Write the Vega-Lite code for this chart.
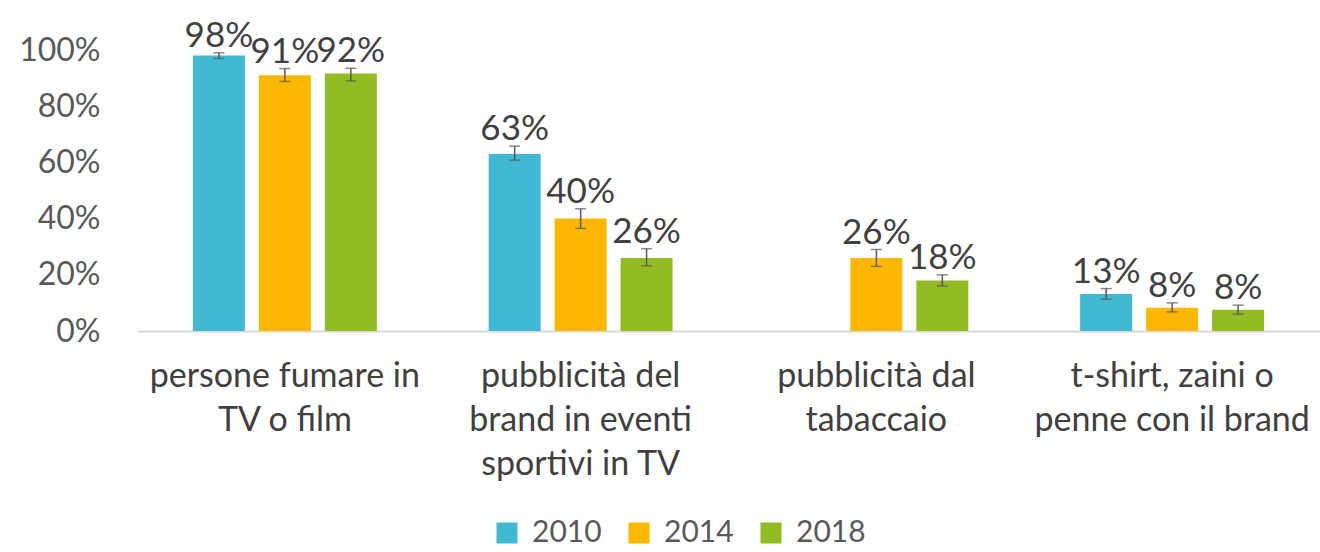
{
  "$schema": "https://vega.github.io/schema/vega-lite/v6.json",
  "width": 1183,
  "height": 281,
  "autosize": "none",
  "padding": {"left": 137, "top": 50, "right": 0, "bottom": 221},
  "config": {"font": "Lato", "view": {"stroke": null}},
  "data": {
    "values": [
      {"cat": "persone fumare in|TV o film", "year": "2010", "value": 0.98, "lo": 0.97, "hi": 0.99},
      {"cat": "persone fumare in|TV o film", "year": "2014", "value": 0.91, "lo": 0.888, "hi": 0.934},
      {"cat": "persone fumare in|TV o film", "year": "2018", "value": 0.916, "lo": 0.89, "hi": 0.935},
      {"cat": "pubblicità del|brand in eventi|sportivi in TV", "year": "2010", "value": 0.63, "lo": 0.608, "hi": 0.658},
      {"cat": "pubblicità del|brand in eventi|sportivi in TV", "year": "2014", "value": 0.40, "lo": 0.365, "hi": 0.435},
      {"cat": "pubblicità del|brand in eventi|sportivi in TV", "year": "2018", "value": 0.26, "lo": 0.232, "hi": 0.293},
      {"cat": "pubblicità dal|tabaccaio", "year": "2014", "value": 0.26, "lo": 0.23, "hi": 0.29},
      {"cat": "pubblicità dal|tabaccaio", "year": "2018", "value": 0.18, "lo": 0.16, "hi": 0.20},
      {"cat": "t-shirt, zaini o|penne con il brand", "year": "2010", "value": 0.132, "lo": 0.113, "hi": 0.151},
      {"cat": "t-shirt, zaini o|penne con il brand", "year": "2014", "value": 0.083, "lo": 0.068, "hi": 0.1},
      {"cat": "t-shirt, zaini o|penne con il brand", "year": "2018", "value": 0.076, "lo": 0.06, "hi": 0.092}
    ]
  },
  "encoding": {
    "x": {
      "field": "cat",
      "type": "nominal",
      "sort": null,
      "scale": {"paddingInner": 0, "paddingOuter": 0},
      "axis": {
        "title": null,
        "domain": true,
        "domainColor": "#D9D9D9",
        "domainWidth": 2,
        "ticks": false,
        "labelAngle": 0,
        "labelFontSize": 34,
        "labelColor": "#404040",
        "labelPadding": 28,
        "labelBaseline": "top",
        "labelLineHeight": 44,
        "labelLimit": 0,
        "labelOverlap": false,
        "labelExpr": "split(datum.label, '|')"
      }
    },
    "xOffset": {
      "field": "year",
      "type": "nominal",
      "scale": {"domain": ["2010", "2014", "2018"], "paddingInner": 0.212, "paddingOuter": 0.848}
    }
  },
  "layer": [
    {
      "mark": {"type": "bar"},
      "encoding": {
        "y": {
          "field": "value",
          "type": "quantitative",
          "scale": {"domain": [0, 1]},
          "axis": {
            "title": null,
            "domain": false,
            "ticks": false,
            "grid": false,
            "format": ".0%",
            "values": [0, 0.2, 0.4, 0.6, 0.8, 1],
            "labelFontSize": 32,
            "labelColor": "#595959",
            "labelPadding": 37
          }
        },
        "color": {
          "field": "year",
          "type": "nominal",
          "scale": {"domain": ["2010", "2014", "2018"], "range": ["#41B9D3", "#FCB800", "#93BB23"]},
          "legend": {
            "orient": "none",
            "legendX": 355,
            "legendY": 468,
            "direction": "horizontal",
            "title": null,
            "symbolType": "square",
            "symbolSize": 441,
            "symbolStrokeWidth": 0,
            "labelFontSize": 30,
            "labelColor": "#595959",
            "labelOffset": 10,
            "columnPadding": 22
          }
        }
      }
    },
    {
      "mark": {"type": "rule", "color": "#595959", "strokeWidth": 1.5},
      "encoding": {
        "y": {"field": "lo", "type": "quantitative"},
        "y2": {"field": "hi"}
      }
    },
    {
      "mark": {"type": "tick", "color": "#595959", "thickness": 1.5, "size": 11},
      "encoding": {"y": {"field": "lo", "type": "quantitative"}}
    },
    {
      "mark": {"type": "tick", "color": "#595959", "thickness": 1.5, "size": 11},
      "encoding": {"y": {"field": "hi", "type": "quantitative"}}
    },
    {
      "mark": {"type": "text", "baseline": "alphabetic", "dy": -6, "fontSize": 35, "color": "#404040"},
      "encoding": {
        "y": {"field": "hi", "type": "quantitative"},
        "text": {"field": "value", "type": "quantitative", "format": ".0%"}
      }
    }
  ]
}
